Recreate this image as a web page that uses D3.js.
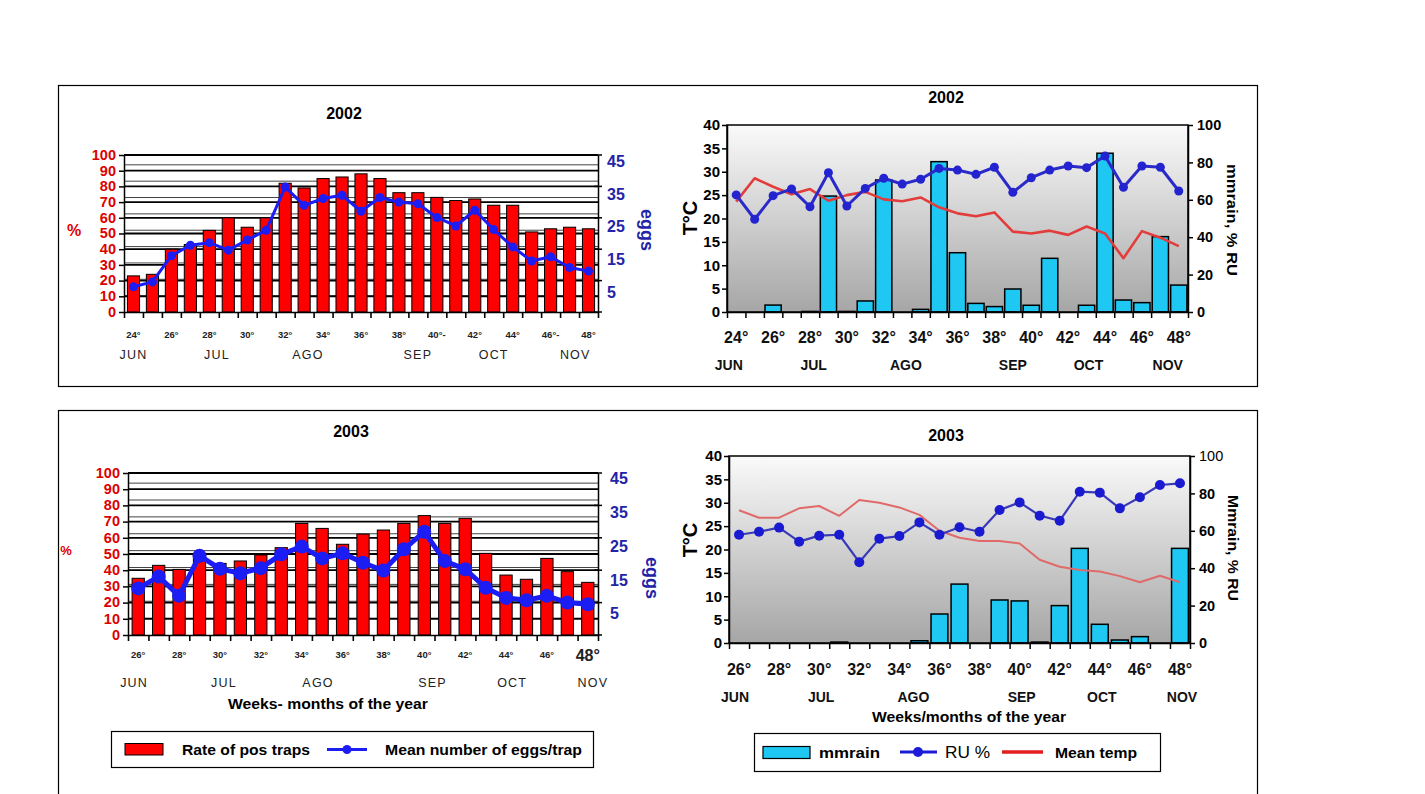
<!DOCTYPE html>
<html><head><meta charset="utf-8">
<script src="https://cdn.jsdelivr.net/npm/d3@7"></script>
<style>
html,body{margin:0;padding:0;background:#fff;}
svg{display:block;font-family:"Liberation Sans",Arial,sans-serif;}
</style></head><body>
<svg id="c" width="1425" height="794"></svg>
<script>
// ---------------- DATA ----------------
const weeks2002 = [24,25,26,27,28,29,30,31,32,33,34,35,36,37,38,39,40,41,42,43,44,45,46,47,48];
const weeks2003 = [26,27,28,29,30,31,32,33,34,35,36,37,38,39,40,41,42,43,44,45,46,47,48];

// Left charts: rate of positive traps (%) and mean number of eggs/trap
const posTraps2002 = [23,24,40,43,52,60,54,60,82,79,85,86,88,85,76,76,73,71,72,68,68,51,53,54,53];
const eggs2002     = [7.7,9.2,17.2,20.4,21.2,18.9,22.0,25.0,38.2,32.6,34.7,35.7,30.8,35.0,33.6,33.1,28.9,26.3,31.1,25.2,19.9,15.6,16.9,13.6,12.5];
const posTraps2003 = [35,43,40.5,49.4,44.2,45.7,49.4,53.9,68.9,65.8,56,62.3,64.8,68.9,73.7,68.9,72,50.4,37,34.4,47.3,39.1,32.5];
const eggs2003     = [13.8,17.3,11.6,23.5,19.6,18.3,19.8,23.9,26.2,22.7,24.2,21.4,19.1,25.4,30.6,21.9,19.5,14.0,11.0,10.3,11.6,9.6,9.1];

// Right charts: mm rain, RU %, mean temperature
const rain2002 = [0,0,3.7,0,0.3,62,0.3,5.9,70.6,0,1.4,80.4,31.7,4.6,2.9,12.3,3.6,28.7,0,3.6,84.9,6.4,5.0,40.3,14.4];
const ru2002   = [62.6,49.6,62.2,65.8,56.3,74.5,56.7,66.1,71.5,68.4,71.0,76.8,75.9,73.6,77.4,64.0,71.8,75.9,78.1,77.2,83.4,66.7,78.1,77.4,64.7];
const temp2002 = [23.6,28.6,26.8,25.2,26.3,23.8,25.0,25.7,24.1,23.7,24.5,22.4,21.1,20.5,21.3,17.2,16.8,17.4,16.5,18.3,16.8,11.5,17.3,15.9,14.1];
const rain2003 = [0,0,0,0,0,0.5,0,0,0,1.2,15.5,31.5,0,23.0,22.5,0.5,20.0,50.6,10.0,1.6,3.4,0,50.6];
const ru2003   = [57.9,59.5,61.7,54.2,57.4,57.9,43.2,55.8,57.2,64.5,57.9,61.9,59.5,71.1,75.2,68.1,65.4,80.9,80.4,72.0,77.9,84.5,85.4];
const temp2003 = [28.4,26.8,26.8,28.8,29.3,27.2,30.6,30.0,29.0,27.4,24.0,22.5,21.8,21.8,21.3,17.8,16.3,15.6,15.3,14.3,13.0,14.4,13.0];

// Tick labels
const pctTicks  = [0,10,20,30,40,50,60,70,80,90,100];
const eggTicks  = [5,15,25,35,45];
const tempTicks = [0,5,10,15,20,25,30,35,40];
const rainTicks = [0,20,40,60,80,100];
const xTickWeeks2002 = [24,26,28,30,32,34,36,38,40,42,44,46,48];
const xTickLabels2002L = ["24°","26°","28°","30°","32°","34°","36°","38°","40°-","42°","44°","46°-","48°"];
const xTickLabels2002R = ["24°","26°","28°","30°","32°","34°","36°","38°","40°","42°","44°","46°","48°"];
const xTickWeeks2003 = [26,28,30,32,34,36,38,40,42,44,46,48];
const xTickLabels2003 = ["26°","28°","30°","32°","34°","36°","38°","40°","42°","44°","46°","48°"];
const months = ["JUN","JUL","AGO","SEP","OCT","NOV"];
const monthAt2002L = [24.0,28.4,33.2,39.0,43.0,47.3];
const monthAt2002R = [23.6,28.2,33.2,39.0,43.1,47.4];
const monthAt2003L = [25.8,30.2,34.8,40.4,44.3,48.25];
const monthAt2003R = [25.8,30.1,34.7,40.1,44.1,48.1];

// ---------------- DRAWING ----------------
const FONT = "'Liberation Sans', Arial, sans-serif";
const svg = d3.select("#c");
const defs = svg.append("defs");

function txt(g, x, y, s, o) {
  o = o || {};
  const t = g.append("text").attr("x",x).attr("y",y).text(s)
    .attr("font-family", FONT)
    .attr("font-size", o.size || 14).attr("font-weight", o.weight || "bold")
    .attr("fill", o.fill || "#000").attr("text-anchor", o.anchor || "middle")
    .attr("dominant-baseline","central");
  if (o.rotate) t.attr("transform", `rotate(${o.rotate},${x},${y})`);
  if (o.len) t.attr("textLength", o.len).attr("lengthAdjust","spacingAndGlyphs");
  if (o.ls) t.attr("letter-spacing", o.ls);
  return t;
}

// frames
svg.append("rect").attr("x",58.5).attr("y",85.5).attr("width",1199).attr("height",301)
  .attr("fill","none").attr("stroke","#000").attr("stroke-width",1.2);
svg.append("rect").attr("x",58.5).attr("y",410.5).attr("width",1199).attr("height",420)
  .attr("fill","none").attr("stroke","#000").attr("stroke-width",1.2);

function eggChart(c) {
  const g = svg.append("g");
  const n = c.weeks.length;
  const x = d3.scaleBand().domain(c.weeks).range([c.x0,c.x1]).paddingInner(c.pad).paddingOuter(c.pad/2);
  const xw = d3.scaleLinear().domain([c.weeks[0]-0.5, c.weeks[n-1]+0.5]).range([c.x0,c.x1]);
  const yL = d3.scaleLinear().domain([0,100]).range([c.yB,c.yT]);
  const yR = d3.scaleLinear().domain([0,48]).range([c.yB,c.yT]);

  // secondary grid (right axis)
  g.append("g").selectAll("line").data(d3.range(5,46,5)).join("line")
    .attr("x1",c.x0).attr("x2",c.x1).attr("y1",d=>yR(d)).attr("y2",d=>yR(d))
    .attr("stroke","#444").attr("stroke-width",1);
  // main grid
  g.append("g").selectAll("line").data(pctTicks.filter(d=>d>0)).join("line")
    .attr("x1",c.x0).attr("x2",c.x1).attr("y1",d=>yL(d)).attr("y2",d=>yL(d))
    .attr("stroke","#000").attr("stroke-width",1.8);

  // bars
  g.append("g").selectAll("rect").data(c.weeks.map((w,i)=>({w,v:c.pos[i]}))).join("rect")
    .attr("x",d=>x(d.w)).attr("width",x.bandwidth())
    .attr("y",d=>yL(d.v)).attr("height",d=>yL(0)-yL(d.v))
    .attr("fill","#ff0000").attr("stroke","#000").attr("stroke-width",1);

  // left axis
  const gl = g.append("g").attr("transform",`translate(${c.x0},0)`)
    .call(d3.axisLeft(yL).tickValues(pctTicks).tickSize(5).tickSizeOuter(0).tickPadding(3));
  gl.attr("font-family",FONT).attr("font-size",c.lSize).attr("font-weight","bold");
  gl.selectAll("text").attr("fill","#dd0000").attr("dy","0.3em");
  gl.selectAll("line,path").attr("stroke","#000").attr("stroke-width",1.5);

  // right axis
  const gr = g.append("g").attr("transform",`translate(${c.x1},0)`)
    .call(d3.axisRight(yR).tickValues(eggTicks).tickSize(0).tickPadding(c.rPad).tickSizeOuter(0));
  gr.attr("font-family",FONT).attr("font-size",16).attr("font-weight","bold");
  gr.selectAll("text").attr("fill","#2323a8").attr("dy",c.rDy);
  gr.selectAll("path").attr("stroke","#000").attr("stroke-width",1.5);
  g.append("g").selectAll("line").data([0,20,40,60,80,100]).join("line")
    .attr("x1",c.x1-4).attr("x2",c.x1+4).attr("y1",d=>yL(d)).attr("y2",d=>yL(d))
    .attr("stroke","#000").attr("stroke-width",1.5);

  // x axis
  const gx = g.append("g").attr("transform",`translate(0,${c.yB})`)
    .call(d3.axisBottom(xw).tickValues(d3.range(c.weeks[0]-0.5, c.weeks[n-1]+1, 1)).tickFormat("").tickSize(6).tickSizeOuter(0));
  gx.selectAll("line,path").attr("stroke","#000").attr("stroke-width",1.6);

  c.tickWeeks.forEach((w,i) => {
    const big = c.bigLast && i === c.tickWeeks.length-1;
    txt(g, x(w)+x.bandwidth()/2, c.tickY + (big?1:0), c.tickLabels[i], {size: big?16:9.5, fill:"#222", weight:"bold"});
  });
  months.forEach((m,i) => txt(g, xw(c.monthAt[i]), c.monthY, m, {size:12.5, weight:"normal", fill:"#222", ls:1.2}));

  // egg line
  const pts = c.weeks.map((w,i)=>({w,v:c.eggs[i]}));
  const line = d3.line().x(d=>x(d.w)+x.bandwidth()/2).y(d=>yR(d.v));
  g.append("path").datum(pts).attr("d",line).attr("fill","none")
    .attr("stroke","#1c1cf5").attr("stroke-width",c.lw).attr("stroke-linejoin","round");
  g.append("g").selectAll("circle").data(pts).join("circle")
    .attr("cx",d=>x(d.w)+x.bandwidth()/2).attr("cy",d=>yR(d.v)).attr("r",c.mr)
    .attr("fill","#1c1cf5");

  txt(g, c.titleX, c.titleY, c.title, {size:16});
  txt(g, c.pctX, c.pctY, "%", {size:c.pctSize, fill:"#dd0000"});
  txt(g, c.eggsX, c.eggsY, "eggs", {size:18, fill:"#2323a8", rotate:90});
}

function climateChart(c) {
  const g = svg.append("g");
  const n = c.weeks.length;
  const x = d3.scaleBand().domain(c.weeks).range([c.x0,c.x1]).paddingInner(c.pad).paddingOuter(c.pad/2);
  const xw = d3.scaleLinear().domain([c.weeks[0]-0.5, c.weeks[n-1]+0.5]).range([c.x0,c.x1]);
  const yL = d3.scaleLinear().domain([0,40]).range([c.yB,c.yT]);
  const yR = d3.scaleLinear().domain([0,100]).range([c.yB,c.yT]);

  const gid = "bg" + c.title;
  const grad = defs.append("linearGradient").attr("id",gid).attr("gradientUnits","userSpaceOnUse")
    .attr("x1",c.x0).attr("y1",c.yT).attr("x2",c.x0).attr("y2",c.yB);
  grad.append("stop").attr("offset","0").attr("stop-color","#fafafa");
  grad.append("stop").attr("offset","1").attr("stop-color","#a6a6a6");

  g.append("rect").attr("x",c.x0).attr("y",c.yT).attr("width",c.x1-c.x0).attr("height",c.yB-c.yT)
    .attr("fill",`url(#${gid})`);

  // rain bars
  g.append("g").selectAll("rect").data(c.weeks.map((w,i)=>({w,v:c.rain[i]})).filter(d=>d.v>0)).join("rect")
    .attr("x",d=>x(d.w)).attr("width",x.bandwidth())
    .attr("y",d=>yR(d.v)).attr("height",d=>yR(0)-yR(d.v))
    .attr("fill","#1ec8f2").attr("stroke","#000").attr("stroke-width",1.5);

  // temp line
  const tp = c.weeks.map((w,i)=>({w,v:c.temp[i]}));
  g.append("path").datum(tp).attr("d", d3.line().x(d=>x(d.w)+x.bandwidth()/2).y(d=>yL(d.v)))
    .attr("fill","none").attr("stroke",c.tempColor).attr("stroke-width",c.tempW).attr("stroke-linejoin","round");

  // RU line
  const rp = c.weeks.map((w,i)=>({w,v:c.ru[i]}));
  g.append("path").datum(rp).attr("d", d3.line().x(d=>x(d.w)+x.bandwidth()/2).y(d=>yR(d.v)))
    .attr("fill","none").attr("stroke",c.ruColor).attr("stroke-width",c.ruW).attr("stroke-linejoin","round");
  g.append("g").selectAll("circle").data(rp).join("circle")
    .attr("cx",d=>x(d.w)+x.bandwidth()/2).attr("cy",d=>yR(d.v)).attr("r",c.mr)
    .attr("fill",c.ruMarker);

  // frame
  g.append("rect").attr("x",c.x0).attr("y",c.yT).attr("width",c.x1-c.x0).attr("height",c.yB-c.yT)
    .attr("fill","none").attr("stroke","#000").attr("stroke-width",1.5);

  // axes
  const gl = g.append("g").attr("transform",`translate(${c.x0},0)`)
    .call(d3.axisLeft(yL).tickValues(tempTicks).tickSize(5).tickSizeOuter(0).tickPadding(2));
  gl.attr("font-family",FONT).attr("font-size",15).attr("font-weight","bold");
  gl.selectAll("text").attr("fill","#000");
  gl.selectAll("line,path").attr("stroke","#000").attr("stroke-width",1.5);

  const gr = g.append("g").attr("transform",`translate(${c.x1},0)`)
    .call(d3.axisRight(yR).tickValues(rainTicks).tickSize(5).tickSizeOuter(0).tickPadding(4));
  gr.attr("font-family",FONT).attr("font-size",14.5).attr("font-weight","bold");
  gr.selectAll("text").attr("fill","#000");
  if (c.light100) gr.selectAll("text").filter(d=>d===100).attr("font-weight","normal");
  gr.selectAll("line,path").attr("stroke","#000").attr("stroke-width",1.5);

  const gx = g.append("g").attr("transform",`translate(0,${c.yB})`)
    .call(d3.axisBottom(xw).tickValues(d3.range(c.weeks[0]-0.5, c.weeks[n-1]+1, 1)).tickFormat("").tickSize(6).tickSizeOuter(0));
  gx.selectAll("line,path").attr("stroke","#000").attr("stroke-width",1.5);

  c.tickWeeks.forEach((w,i) => txt(g, x(w)+x.bandwidth()/2, c.tickY, c.tickLabels[i], {size:16, fill:"#111"}));
  months.forEach((m,i) => txt(g, xw(c.monthAt[i]), c.monthY, m, {size:14, fill:"#111"}));

  txt(g, c.titleX, c.titleY, c.title, {size:16});
  txt(g, c.tcX, c.tcY, "T°C", {size:20, rotate:-90});
  txt(g, c.rlX, c.rlY, c.rightLabel, {size:15, rotate:90, len:c.rlLen});
}

eggChart({weeks:weeks2002, pos:posTraps2002, eggs:eggs2002, x0:124, x1:598, yT:155, yB:312, pad:0.36,
  lSize:14.5, rPad:9, rDy:"0.1em", lw:3, mr:4.5,
  tickWeeks:xTickWeeks2002, tickLabels:xTickLabels2002L, tickY:334, monthAt:monthAt2002L, monthY:355,
  title:"2002", titleX:344, titleY:113, pctX:74, pctY:230, pctSize:16, eggsX:647, eggsY:230});

eggChart({weeks:weeks2003, pos:posTraps2003, eggs:eggs2003, x0:128, x1:598, yT:473, yB:635, pad:0.4,
  lSize:14.5, rPad:12, rDy:"0.05em", lw:5, mr:7, bigLast:true,
  tickWeeks:xTickWeeks2003, tickLabels:xTickLabels2003, tickY:654, monthAt:monthAt2003L, monthY:683,
  title:"2003", titleX:351, titleY:431, pctX:66, pctY:550, pctSize:13, eggsX:652, eggsY:578});

climateChart({weeks:weeks2002, rain:rain2002, ru:ru2002, temp:temp2002, x0:727, x1:1188, yT:125, yB:312, pad:0.12,
  tempColor:"#e23c3c", tempW:2.6, ruColor:"#2a2ac8", ruW:3, ruMarker:"#2323d0", mr:4.5,
  tickWeeks:xTickWeeks2002, tickLabels:xTickLabels2002R, tickY:337, monthAt:monthAt2002R, monthY:365,
  title:"2002", titleX:946, titleY:97, tcX:690, tcY:218, rlX:1232, rlY:220, rightLabel:"mmrain, % RU", rlLen:112});

climateChart({weeks:weeks2003, rain:rain2003, ru:ru2003, temp:temp2003, x0:729, x1:1190, yT:456, yB:643, pad:0.16,
  tempColor:"#e06a6a", tempW:2, ruColor:"#3a3ab8", ruW:2.2, ruMarker:"#1a1ad0", mr:5, light100:true,
  tickWeeks:xTickWeeks2003, tickLabels:xTickLabels2003, tickY:669, monthAt:monthAt2003R, monthY:697,
  title:"2003", titleX:946, titleY:435, tcX:690, tcY:540, rlX:1233, rlY:548, rightLabel:"Mmrain, % RU", rlLen:106});

// axis titles
txt(svg, 328, 703, "Weeks- months of the year", {size:15, len:200});
txt(svg, 969, 716, "Weeks/months of the year", {size:15, len:194});

// legends
const lg1 = svg.append("g");
lg1.append("rect").attr("x",111.5).attr("y",731.5).attr("width",482).attr("height",36)
  .attr("fill","#fff").attr("stroke","#000").attr("stroke-width",1.2);
lg1.append("rect").attr("x",125).attr("y",743.5).attr("width",38).attr("height",11.5)
  .attr("fill","#ff0000").attr("stroke","#000").attr("stroke-width",1);
txt(lg1, 182, 749.5, "Rate of pos traps", {anchor:"start", size:15, len:128});
lg1.append("line").attr("x1",327).attr("x2",367).attr("y1",749.5).attr("y2",749.5).attr("stroke","#1c1cf5").attr("stroke-width",3);
lg1.append("circle").attr("cx",347).attr("cy",749.5).attr("r",4.5).attr("fill","#1c1cf5");
txt(lg1, 385, 749.5, "Mean number of eggs/trap", {anchor:"start", size:15, len:197});

const lg2 = svg.append("g");
lg2.append("rect").attr("x",754.5).attr("y",733.5).attr("width",406).attr("height",38)
  .attr("fill","#fff").attr("stroke","#000").attr("stroke-width",1.2);
lg2.append("rect").attr("x",763).attr("y",746.5).attr("width",47).attr("height",12)
  .attr("fill","#1ec8f2").attr("stroke","#000").attr("stroke-width",1.2);
txt(lg2, 819, 752, "mmrain", {anchor:"start", size:15.5, len:61});
lg2.append("line").attr("x1",900).attr("x2",937).attr("y1",752).attr("y2",752).attr("stroke","#1c1cd8").attr("stroke-width",3);
lg2.append("circle").attr("cx",918).attr("cy",752).attr("r",5).attr("fill","#1c1cd8");
txt(lg2, 945, 752, "RU %", {anchor:"start", size:17, weight:"normal", len:45});
lg2.append("line").attr("x1",1002).attr("x2",1043).attr("y1",752).attr("y2",752).attr("stroke","#e21e1e").attr("stroke-width",3.5);
txt(lg2, 1055, 752, "Mean temp", {anchor:"start", size:15.5, len:82});
</script>
</body></html>
